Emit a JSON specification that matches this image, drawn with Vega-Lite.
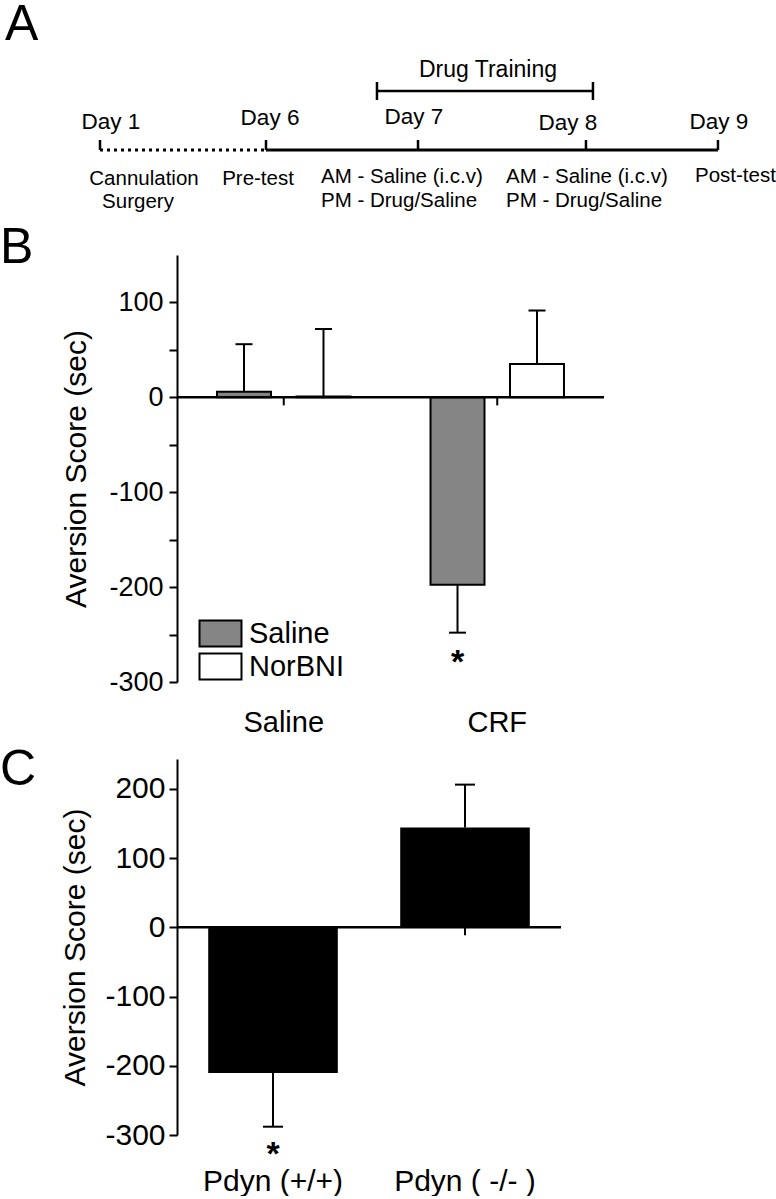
{
  "$schema": "https://vega.github.io/schema/vega-lite/v6.json",
  "padding": 0,
  "spacing": 8,
  "background": "white",
  "config": {
    "font": "Liberation Sans",
    "view": {"stroke": null},
    "axis": {"domainColor": "black", "domainWidth": 2, "tickColor": "black", "tickWidth": 2, "labelColor": "black", "titleColor": "black", "titleFontWeight": "normal", "grid": false, "labelFont": "Liberation Sans", "titleFont": "Liberation Sans"},
    "title": {"fontWeight": "normal", "color": "black", "anchor": "start", "frame": "group", "font": "Liberation Sans"},
    "text": {"color": "black", "font": "Liberation Sans"}
  },
  "datasets": {
    "timeline": [{"phase": "Recovery", "start": 0, "end": 26.86}, {"phase": "Testing", "start": 26.86, "end": 100}],
    "days": [
      {"day": "Day 1", "pos": 0, "labelPos": 1.78, "labelLevel": 21},
      {"day": "Day 6", "pos": 26.86, "labelPos": 27.51, "labelLevel": 25},
      {"day": "Day 7", "pos": 51.46, "labelPos": 50.81, "labelLevel": 26},
      {"day": "Day 8", "pos": 78.64, "labelPos": 75.73, "labelLevel": 20},
      {"day": "Day 9", "pos": 100, "labelPos": 100.16, "labelLevel": 21}
    ],
    "training": [{"label": "Drug Training", "start": 44.82, "end": 79.77, "mid": 62.78}],
    "eventsCentered": [
      {"note": "Cannulation", "pos": 7.12, "level": -35},
      {"note": "Surgery", "pos": 6.15, "level": -58},
      {"note": "Pre-test", "pos": 25.57, "level": -35}
    ],
    "eventsLeft": [
      {"note": "AM - Saline (i.c.v)", "pos": 35.76, "level": -33},
      {"note": "PM - Drug/Saline", "pos": 35.76, "level": -57},
      {"note": "AM - Saline (i.c.v)", "pos": 65.7, "level": -33},
      {"note": "PM - Drug/Saline", "pos": 65.7, "level": -57},
      {"note": "Post-test", "pos": 96.28, "level": -32}
    ],
    "panelB": [
      {"group": "Saline", "treatment": "Saline", "mean": 6, "err": 56, "sig": ""},
      {"group": "Saline", "treatment": "NorBNI", "mean": 1, "err": 72, "sig": ""},
      {"group": "CRF", "treatment": "Saline", "mean": -197.5, "err": -248, "sig": "*"},
      {"group": "CRF", "treatment": "NorBNI", "mean": 35, "err": 91.5, "sig": ""}
    ],
    "panelC": [
      {"genotype": "Pdyn (+/+)", "mean": -210.5, "err": -288, "sig": "*"},
      {"genotype": "Pdyn ( -/- )", "mean": 144, "err": 206, "sig": ""}
    ],
    "zero": [{"value": 0}]
  },
  "vconcat": [
    {
      "title": {"text": "A", "fontSize": 50, "dx": -172, "offset": 5},
      "width": 599,
      "height": 160,
      "layer": [
        {
          "data": {"name": "timeline"},
          "transform": [{"filter": "datum.phase === 'Recovery'"}],
          "mark": {"type": "rule", "strokeWidth": 3, "strokeDash": [3, 4], "color": "black"},
          "encoding": {
            "x": {"field": "start", "type": "quantitative", "scale": {"domain": [12.46, 109.39], "nice": false, "zero": false}, "axis": null},
            "x2": {"field": "end"},
            "y": {"datum": 0, "type": "quantitative", "scale": {"domain": [-65, 95], "nice": false, "zero": false}, "axis": null}
          }
        },
        {
          "data": {"name": "timeline"},
          "transform": [{"filter": "datum.phase === 'Testing'"}],
          "mark": {"type": "rule", "strokeWidth": 3, "color": "black"},
          "encoding": {
            "x": {"field": "start", "type": "quantitative"},
            "x2": {"field": "end"},
            "y": {"datum": 0, "type": "quantitative"}
          }
        },
        {
          "data": {"name": "days"},
          "mark": {"type": "rule", "strokeWidth": 2.5, "color": "black"},
          "encoding": {
            "x": {"field": "pos", "type": "quantitative"},
            "y": {"datum": 0, "type": "quantitative"},
            "y2": {"datum": 10}
          }
        },
        {
          "data": {"name": "days"},
          "mark": {"type": "text", "fontSize": 22.5, "align": "center", "baseline": "alphabetic"},
          "encoding": {
            "x": {"field": "labelPos", "type": "quantitative"},
            "y": {"field": "labelLevel", "type": "quantitative"},
            "text": {"field": "day"}
          }
        },
        {
          "data": {"name": "training"},
          "mark": {"type": "rule", "strokeWidth": 2.5, "color": "black"},
          "encoding": {
            "x": {"field": "start", "type": "quantitative"},
            "x2": {"field": "end"},
            "y": {"datum": 59, "type": "quantitative"}
          }
        },
        {
          "data": {"name": "training"},
          "transform": [{"fold": ["start", "end"], "as": ["edge", "edgePos"]}],
          "mark": {"type": "rule", "strokeWidth": 2.5, "color": "black"},
          "encoding": {
            "x": {"field": "edgePos", "type": "quantitative"},
            "y": {"datum": 50, "type": "quantitative"},
            "y2": {"datum": 68}
          }
        },
        {
          "data": {"name": "training"},
          "mark": {"type": "text", "fontSize": 23, "align": "center", "baseline": "alphabetic"},
          "encoding": {
            "x": {"field": "mid", "type": "quantitative"},
            "y": {"datum": 73.5, "type": "quantitative"},
            "text": {"field": "label"}
          }
        },
        {
          "data": {"name": "eventsCentered"},
          "mark": {"type": "text", "fontSize": 20.5, "align": "center", "baseline": "alphabetic"},
          "encoding": {
            "x": {"field": "pos", "type": "quantitative"},
            "y": {"field": "level", "type": "quantitative"},
            "text": {"field": "note"}
          }
        },
        {
          "data": {"name": "eventsLeft"},
          "mark": {"type": "text", "fontSize": 20.5, "align": "left", "baseline": "alphabetic"},
          "encoding": {
            "x": {"field": "pos", "type": "quantitative"},
            "y": {"field": "level", "type": "quantitative"},
            "text": {"field": "note"}
          }
        }
      ]
    },
    {
      "title": {"text": "B", "fontSize": 50, "dx": -177, "offset": -18},
      "width": 427,
      "height": 427,
      "layer": [
        {
          "data": {"name": "panelB"},
          "transform": [{"aggregate": [{"op": "count", "as": "n"}], "groupby": ["group"]}],
          "mark": {"type": "rule", "strokeWidth": 2, "color": "black"},
          "encoding": {
            "x": {"field": "group", "type": "nominal", "sort": ["Saline", "CRF"], "scale": {"paddingInner": 0, "paddingOuter": 0},
                  "axis": {"title": null, "domain": false, "ticks": false, "tickSize": 0, "labelAngle": 0, "labelFontSize": 29, "labelPadding": 26}},
            "y": {"datum": 0, "type": "quantitative", "scale": {"domain": [-300, 150], "nice": false, "zero": false},
                  "axis": {"title": "Aversion Score (sec)", "titleFontSize": 30, "titlePadding": 17, "values": [-300, -250, -200, -150, -100, -50, 0, 50, 100], "labelExpr": "datum.value % 100 === 0 ? '' + datum.value : ''", "labelFontSize": 27, "tickSize": 8, "labelPadding": 6, "labelOverlap": false, "labelFlush": false}},
            "y2": {"datum": -8.5}
          }
        },
        {
          "data": {"name": "panelB"},
          "mark": {"type": "bar", "stroke": "black", "strokeWidth": 2},
          "encoding": {
            "x": {"field": "group", "type": "nominal", "sort": ["Saline", "CRF"]},
            "xOffset": {"field": "treatment", "type": "nominal", "sort": ["Saline", "NorBNI"], "scale": {"paddingInner": 0.321, "paddingOuter": 0.5035}},
            "y": {"field": "mean", "type": "quantitative"},
            "fill": {"field": "treatment", "type": "nominal", "sort": ["Saline", "NorBNI"],
                     "scale": {"domain": ["Saline", "NorBNI"], "range": ["#858585", "#ffffff"]},
                     "legend": {"orient": "none", "legendX": 29, "legendY": 564, "title": null, "symbolType": "M-1.615,-1H1.615V1H-1.615Z", "symbolSize": 676, "symbolStrokeColor": "black", "symbolStrokeWidth": 2, "labelFontSize": 29, "labelColor": "black", "labelFont": "Liberation Sans", "labelOffset": 14, "rowPadding": -2, "padding": 0}}
          }
        },
        {
          "data": {"name": "panelB"},
          "mark": {"type": "rule", "strokeWidth": 2, "color": "black"},
          "encoding": {
            "x": {"field": "group", "type": "nominal", "sort": ["Saline", "CRF"]},
            "xOffset": {"field": "treatment", "type": "nominal", "sort": ["Saline", "NorBNI"]},
            "y": {"field": "mean", "type": "quantitative"},
            "y2": {"field": "err"}
          }
        },
        {
          "data": {"name": "panelB"},
          "mark": {"type": "tick", "size": 17, "thickness": 2, "color": "black", "opacity": 1},
          "encoding": {
            "x": {"field": "group", "type": "nominal", "sort": ["Saline", "CRF"]},
            "xOffset": {"field": "treatment", "type": "nominal", "sort": ["Saline", "NorBNI"]},
            "y": {"field": "err", "type": "quantitative"}
          }
        },
        {
          "data": {"name": "zero"},
          "mark": {"type": "rule", "strokeWidth": 2.5, "color": "black"},
          "encoding": {"y": {"field": "value", "type": "quantitative"}}
        },
        {
          "data": {"name": "panelB"},
          "transform": [{"filter": "datum.sig !== ''"}],
          "mark": {"type": "text", "fontSize": 34, "fontWeight": "bold", "baseline": "top", "align": "center", "dy": 13},
          "encoding": {
            "x": {"field": "group", "type": "nominal", "sort": ["Saline", "CRF"]},
            "xOffset": {"field": "treatment", "type": "nominal", "sort": ["Saline", "NorBNI"]},
            "y": {"field": "err", "type": "quantitative"},
            "text": {"field": "sig"}
          }
        }
      ]
    },
    {
      "title": {"text": "C", "fontSize": 50, "dx": -177, "offset": -36},
      "width": 384,
      "height": 376,
      "layer": [
        {
          "data": {"name": "panelC"},
          "mark": {"type": "rule", "strokeWidth": 2, "color": "black"},
          "encoding": {
            "x": {"field": "genotype", "type": "nominal", "sort": ["Pdyn (+/+)", "Pdyn ( -/- )"], "scale": {"paddingInner": 0.325, "paddingOuter": 0.1625},
                  "axis": {"title": null, "domain": false, "ticks": false, "tickSize": 0, "labelAngle": 0, "labelFontSize": 30, "labelPadding": 31}},
            "y": {"datum": 0, "type": "quantitative", "scale": {"domain": [-300, 243], "nice": false, "zero": false},
                  "axis": {"title": "Aversion Score (sec)", "titleFontSize": 30, "titlePadding": 14, "values": [-300, -250, -200, -150, -100, -50, 0, 50, 100, 150, 200], "labelExpr": "datum.value % 100 === 0 ? '' + datum.value : ''", "labelFontSize": 30, "tickSize": 8, "labelPadding": 4, "labelOverlap": false, "labelFlush": false}},
            "y2": {"datum": -11.5}
          }
        },
        {
          "data": {"name": "panelC"},
          "mark": {"type": "bar", "color": "black"},
          "encoding": {
            "x": {"field": "genotype", "type": "nominal", "sort": ["Pdyn (+/+)", "Pdyn ( -/- )"]},
            "y": {"field": "mean", "type": "quantitative"}
          }
        },
        {
          "data": {"name": "panelC"},
          "mark": {"type": "rule", "strokeWidth": 2, "color": "black"},
          "encoding": {
            "x": {"field": "genotype", "type": "nominal", "sort": ["Pdyn (+/+)", "Pdyn ( -/- )"]},
            "y": {"field": "mean", "type": "quantitative"},
            "y2": {"field": "err"}
          }
        },
        {
          "data": {"name": "panelC"},
          "mark": {"type": "tick", "size": 20, "thickness": 2, "color": "black", "opacity": 1},
          "encoding": {
            "x": {"field": "genotype", "type": "nominal", "sort": ["Pdyn (+/+)", "Pdyn ( -/- )"]},
            "y": {"field": "err", "type": "quantitative"}
          }
        },
        {
          "data": {"name": "zero"},
          "mark": {"type": "rule", "strokeWidth": 2.5, "color": "black"},
          "encoding": {"y": {"field": "value", "type": "quantitative"}}
        },
        {
          "data": {"name": "panelC"},
          "transform": [{"filter": "datum.sig !== ''"}],
          "mark": {"type": "text", "fontSize": 34, "fontWeight": "bold", "baseline": "top", "align": "center", "dy": 11},
          "encoding": {
            "x": {"field": "genotype", "type": "nominal", "sort": ["Pdyn (+/+)", "Pdyn ( -/- )"]},
            "y": {"field": "err", "type": "quantitative"},
            "text": {"field": "sig"}
          }
        }
      ]
    }
  ]
}
